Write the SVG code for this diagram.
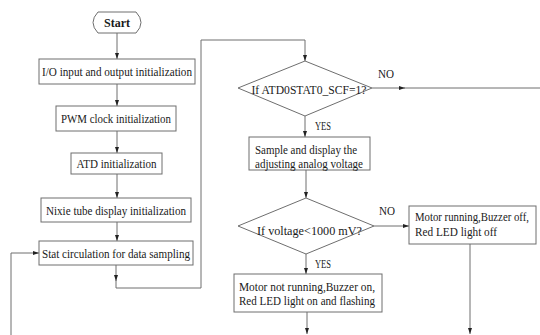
<svg xmlns="http://www.w3.org/2000/svg" width="540" height="335" viewBox="0 0 540 335">
<style>
.n{fill:#fff;stroke:#6e6e6e;stroke-width:1}
.t{font-family:"Liberation Serif","Times New Roman",serif;font-size:13px;fill:#1a1a1a;text-anchor:middle;dominant-baseline:central}
.c{fill:none;stroke:#6e6e6e;stroke-width:1}
</style>
<defs>
<marker id="a" viewBox="0 0 6 4" refX="6" refY="2" markerWidth="6" markerHeight="4" markerUnits="userSpaceOnUse" orient="auto">
<path d="M0,0 L6,2 L0,4 Z" fill="#222"/>
</marker>
</defs>
<rect width="540" height="335" fill="#fff"/>
<g id="connectors">
<path class="c" d="M117,33 V59" marker-end="url(#a)"/>
<path class="c" d="M117,84 V106" marker-end="url(#a)"/>
<path class="c" d="M117,131 V153" marker-end="url(#a)"/>
<path class="c" d="M117,174 V198" marker-end="url(#a)"/>
<path class="c" d="M117,222 V241" marker-end="url(#a)"/>
<path class="c" d="M116,265 V281" marker-end="url(#a)"/>
<path class="c" d="M116,280 V288 H201 V40 H305 V61" marker-end="url(#a)"/>
<path class="c" d="M11,335 V253 H39" marker-end="url(#a)"/>
<path class="c" d="M305,116 V137" marker-end="url(#a)"/>
<path class="c" d="M372,88 H405" marker-end="url(#a)"/>
<path class="c" d="M404,88 H540"/>
<path class="c" d="M306,170 V198" marker-end="url(#a)"/>
<path class="c" d="M374,226 H409" marker-end="url(#a)"/>
<path class="c" d="M306,254 V274" marker-end="url(#a)"/>
<path class="c" d="M307,312 V334" marker-end="url(#a)"/>
<path class="c" d="M470,244 V334" marker-end="url(#a)"/>
</g>
<g id="start">
<path class="n" d="M98,12 H136 Q146,22.5 136,33 H98 Q88,22.5 98,12 Z"/>
<text class="t" x="117" y="22.5" font-weight="bold" textLength="26" lengthAdjust="spacingAndGlyphs">Start</text>
</g>
<g id="io">
<rect class="n" x="39" y="59" width="156" height="25"/>
<text class="t" x="117" y="71.5" textLength="150" lengthAdjust="spacingAndGlyphs">I/O input and output initialization</text>
</g>
<g id="pwm">
<rect class="n" x="56" y="106" width="120" height="25"/>
<text class="t" x="116" y="118.5" textLength="110" lengthAdjust="spacingAndGlyphs">PWM clock initialization</text>
</g>
<g id="atd">
<rect class="n" x="71" y="153" width="91" height="21"/>
<text class="t" x="116.5" y="163.5" textLength="80" lengthAdjust="spacingAndGlyphs">ATD initialization</text>
</g>
<g id="nixie">
<rect class="n" x="41" y="198" width="150" height="24"/>
<text class="t" x="116" y="210" textLength="140" lengthAdjust="spacingAndGlyphs">Nixie tube display initialization</text>
</g>
<g id="stat">
<rect class="n" x="39" y="241" width="154" height="24"/>
<text class="t" x="116" y="253" textLength="148" lengthAdjust="spacingAndGlyphs">Stat circulation for data sampling</text>
</g>
<g id="d1">
<polygon class="n" points="305,61 372,88 305,116 238,88"/>
<text class="t" x="309" y="89" textLength="115" lengthAdjust="spacingAndGlyphs">If ATD0STAT0_SCF=1?</text>
<text class="t" x="386" y="73" textLength="16" lengthAdjust="spacingAndGlyphs">NO</text>
<text class="t" x="323" y="125" textLength="16" lengthAdjust="spacingAndGlyphs">YES</text>
</g>
<g id="sample">
<rect class="n" x="249" y="137" width="121" height="33"/>
<text class="t" x="306" y="149" textLength="102" lengthAdjust="spacingAndGlyphs">Sample and display the</text>
<text class="t" x="309" y="163" textLength="108" lengthAdjust="spacingAndGlyphs">adjusting analog voltage</text>
</g>
<g id="d2">
<polygon class="n" points="306,198 374,226 306,254 238,226"/>
<text class="t" x="309.5" y="230" textLength="105" lengthAdjust="spacingAndGlyphs">If voltage&lt;1000 mV?</text>
<text class="t" x="387" y="210" textLength="16" lengthAdjust="spacingAndGlyphs">NO</text>
<text class="t" x="323" y="263" textLength="16" lengthAdjust="spacingAndGlyphs">YES</text>
</g>
<g id="run">
<rect class="n" x="409" y="206" width="127" height="38"/>
<text class="t" x="472" y="217" style="font-size:11.5px" textLength="114" lengthAdjust="spacingAndGlyphs">Motor running,Buzzer off,</text>
<text class="t" x="456" y="231" textLength="82" lengthAdjust="spacingAndGlyphs">Red LED light off</text>
</g>
<g id="stop">
<rect class="n" x="234" y="274" width="148" height="38"/>
<text class="t" x="307" y="286" textLength="136" lengthAdjust="spacingAndGlyphs">Motor not running,Buzzer on,</text>
<text class="t" x="307" y="300" textLength="136" lengthAdjust="spacingAndGlyphs">Red LED light on and flashing</text>
</g>
</svg>
